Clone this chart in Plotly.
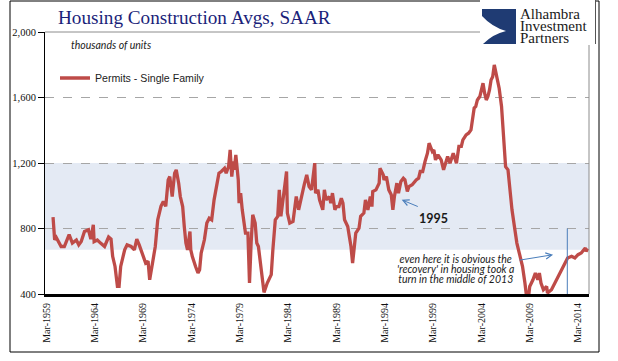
import plotly.graph_objects as go

# ---------------- data ----------------
dates = [
    "1959-11", "1960-01", "1960-03", "1960-06", "1960-09", "1961-01", "1961-04", "1961-07", "1961-11",
    "1962-04", "1962-07", "1962-10", "1963-02", "1963-07", "1963-10", "1964-01", "1964-02", "1964-06",
    "1964-10", "1965-03", "1965-08", "1965-11", "1966-01", "1966-04", "1966-07", "1966-09", "1966-11",
    "1967-04", "1967-07", "1967-12", "1968-04", "1968-07", "1968-10", "1969-02", "1969-06", "1969-09",
    "1969-11", "1970-03", "1970-06", "1970-09", "1971-01", "1971-04", "1971-07", "1971-10", "1971-12",
    "1972-03", "1972-06", "1972-08", "1972-11", "1973-01", "1973-04", "1973-06", "1973-08", "1973-10",
    "1974-01", "1974-02", "1974-04", "1974-08", "1974-11", "1975-01", "1975-03", "1975-07", "1975-10",
    "1976-01", "1976-04", "1976-07", "1976-09", "1977-01", "1977-04", "1977-08", "1977-10", "1978-01",
    "1978-03", "1978-05", "1978-07", "1978-08", "1978-10", "1979-01", "1979-02", "1979-04", "1979-06",
    "1979-10", "1980-01", "1980-03", "1980-05", "1980-07", "1980-10", "1980-12", "1981-02", "1981-07",
    "1981-09", "1982-01", "1982-06", "1982-08", "1982-11", "1983-02", "1983-04", "1983-06", "1983-08",
    "1984-01", "1984-02", "1984-05", "1984-09", "1984-12", "1985-01", "1985-04", "1985-07", "1985-11",
    "1986-02", "1986-05", "1986-08", "1986-12", "1987-01", "1987-04", "1987-06", "1987-10", "1987-12",
    "1988-02", "1988-06", "1988-08", "1988-10", "1989-01", "1989-03", "1989-06", "1989-09", "1989-11",
    "1990-01", "1990-05", "1990-07", "1990-09", "1990-11", "1991-01", "1991-03", "1991-07", "1991-09",
    "1992-01", "1992-03", "1992-06", "1992-09", "1992-11", "1992-12", "1993-04", "1993-08", "1993-09",
    "1994-01", "1994-02", "1994-05", "1994-08", "1994-11", "1995-01", "1995-03", "1995-06", "1995-08",
    "1995-11", "1996-02", "1996-04", "1996-07", "1996-09", "1997-01", "1997-06", "1997-09", "1997-11",
    "1998-02", "1998-05", "1998-08", "1998-10", "1999-02", "1999-04", "1999-06", "1999-09", "2000-01",
    "2000-04", "2000-07", "2000-09", "2000-12", "2001-04", "2001-08", "2001-11", "2002-02", "2002-04",
    "2002-08", "2002-11", "2003-02", "2003-04", "2003-06", "2003-08", "2003-10", "2004-01", "2004-03",
    "2004-05", "2004-07", "2004-09", "2004-11", "2005-01", "2005-03", "2005-05", "2005-07", "2005-09",
    "2005-11", "2006-01", "2006-04", "2006-06", "2006-08", "2006-09", "2006-12", "2007-02", "2007-05",
    "2007-08", "2007-11", "2008-02", "2008-06", "2008-09", "2008-11", "2009-01", "2009-03", "2009-07",
    "2009-10", "2010-01", "2010-03", "2010-05", "2010-08", "2010-12", "2011-01", "2011-06", "2011-10",
    "2012-02", "2012-06", "2012-10", "2013-02", "2013-07", "2013-11", "2014-03", "2014-07", "2014-12",
    "2015-01", "2015-03",
]
permits_single_family = [
    870, 731, 745, 715, 690, 690, 725, 762, 711,
    730, 700, 720, 782, 792, 735, 823, 720, 730,
    711, 690, 748, 735, 630, 568, 446, 446, 568,
    670, 700, 690, 670, 735, 700, 650, 589, 600,
    487, 602, 690, 853, 935, 965, 935, 1097, 1117,
    995, 1138, 1158, 1077, 995, 934, 812, 711, 670,
    782, 670, 629, 568, 528, 548, 650, 731, 833,
    863, 853, 975, 1036, 1138, 1148, 1168, 1138, 1179,
    1280, 1117, 1209, 1158, 1250, 1097, 955, 1016, 914,
    772, 772, 467, 711, 884, 833, 711, 690, 507,
    410, 467, 518, 670, 853, 874, 1036, 874, 955,
    1148, 894, 833, 843, 934, 995, 914, 985, 1070,
    1128, 1056, 1036, 1199, 1016, 1036, 975, 914, 1036,
    975, 995, 955, 1016, 914, 934, 934, 985, 955,
    853, 812, 751, 690, 589, 670, 772, 802, 874,
    894, 975, 914, 995, 934, 1026, 1036, 1077, 1168,
    1128, 1097, 1117, 1036, 1006, 914, 995, 1077, 1016,
    1087, 1107, 1097, 1026, 1056, 1067, 1097, 1107, 1148,
    1148, 1209, 1260, 1321, 1270, 1280, 1219, 1250, 1219,
    1158, 1209, 1240, 1199, 1260, 1199, 1301, 1301, 1341,
    1372, 1382, 1402, 1463, 1535, 1545, 1585, 1606, 1646,
    1687, 1626, 1585, 1606, 1646, 1707, 1727, 1799, 1748,
    1687, 1657, 1545, 1422, 1300, 1178, 1158, 1036, 914,
    812, 711, 650, 569, 467, 385, 360, 446, 487,
    528, 487, 528, 467, 426, 446, 406, 426, 467,
    507, 548, 589, 620, 630, 620, 640, 650, 681,
    660, 678,
]
series_name = "Permits - Single Family"
y_ticks = [400, 800, 1200, 1600, 2000]
y_tick_labels = ["400", "800", "1,200", "1,600", "2,000"]
band_low, band_high = 670, 1200
marker_date = "2013-01-20"
marker_top = 800
note_lines = ["even here it is obvious the",
              "'recovery' in housing took a",
              "turn in the middle of 2013"]
logo_lines = ["Alhambra", "Investment", "Partners"]

# ---------------- layout helpers ----------------
W, H = 618, 361
L, R, T, B = 45, 589, 32, 294


def px(x):
    return (x - L) / (R - L)


def py(y):
    return (B - y) / (B - T)


RED = "#BE4B48"
BLUE = "#4A7EBB"
SERIF = "Liberation Serif"

fig = go.Figure()
fig.add_trace(go.Scatter(
    x=dates, y=permits_single_family, mode="lines", name=series_name,
    line=dict(color=RED, width=3.3), showlegend=True,
))

shapes = [
    dict(type="rect", xref="paper", yref="y", x0=0, x1=1, y0=band_low, y1=band_high,
         fillcolor="#E4EAF4", line=dict(width=0), layer="below"),
    dict(type="line", xref="paper", yref="paper", x0=0, x1=1, y0=1, y1=1,
         line=dict(color="#8C8C8C", width=1)),
    dict(type="line", xref="paper", yref="paper", x0=1, x1=1, y0=0, y1=1,
         line=dict(color="#8C8C8C", width=1)),
    dict(type="line", xref="x", yref="y", x0=marker_date, x1=marker_date, y0=400, y1=marker_top,
         line=dict(color=BLUE, width=1)),
    dict(type="rect", xref="paper", yref="paper", x0=px(10), x1=px(599), y0=py(352), y1=py(1),
         line=dict(color="black", width=1), fillcolor="rgba(0,0,0,0)"),
    dict(type="rect", xref="paper", yref="paper", x0=px(480), x1=px(595), y0=py(45), y1=py(0),
         line=dict(width=0), fillcolor="white"),
    dict(type="line", xref="paper", yref="paper", x0=px(595.5), x1=px(595.5), y0=py(44), y1=py(0),
         line=dict(color="#555555", width=1)),
]


def pth(points):
    out = []
    for cmd, pts in points:
        coords = " ".join(f"{px(a):.5f},{py(b):.5f}" for a, b in pts)
        out.append(f"{cmd}{coords}")
    return " ".join(out) + " Z"


logo_path = pth([
    ("M", [(482, 9)]), ("L", [(516, 9)]), ("L", [(516, 44)]), ("L", [(483, 44)]),
    ("Q", [(493, 34), (506, 31)]), ("Q", [(492, 27), (482, 16)]),
])
shapes.append(dict(type="path", xref="paper", yref="paper", path=logo_path,
                   fillcolor="#1F3B73", line=dict(width=0)))

note_text = "<br>".join(f'<span style="font-size:10.5px"><i>{t}</i></span>' for t in note_lines)
logo_text = "<br>".join(f'<span style="font-size:15px">{t}</span>' for t in logo_lines)

annotations = [
    dict(text="Housing Construction Avgs, SAAR", xref="paper", yref="paper",
         x=px(56), y=py(17.5), xanchor="left", yanchor="middle", showarrow=False,
         font=dict(family=SERIF, size=19.2, color="#1B1F7A")),
    dict(text="<i>thousands of units</i>", xref="paper", yref="paper",
         x=px(69), y=py(45), xanchor="left", yanchor="middle", showarrow=False,
         font=dict(family="Lato", size=10.5, color="#222222")),
    dict(text="<b>1995</b>", xref="paper", yref="paper",
         x=px(433), y=py(218), xanchor="center", yanchor="middle", showarrow=False,
         font=dict(family="Lato", size=12.5, color="#1a1a1a")),
    dict(text="", x="1995-12-01", y=975, xref="x", yref="y", showarrow=True,
         ax=17.6, ay=7.3, arrowhead=5, arrowsize=1.2, arrowwidth=1, arrowcolor=BLUE,
         standoff=0),
    dict(text="", x="2011-08-01", y=640, xref="x", yref="y", showarrow=True,
         ax=-35, ay=5.7, arrowhead=5, arrowsize=1.2, arrowwidth=1, arrowcolor=BLUE,
         standoff=0),
    dict(text=note_text, xref="paper", yref="paper",
         x=px(455), y=py(268.5), xanchor="center", yanchor="middle", align="center",
         showarrow=False, font=dict(family="Lato", size=7.7, color="#1a1a1a")),
    dict(text=logo_text, xref="paper", yref="paper",
         x=px(518), y=py(26), xanchor="left", yanchor="middle", align="left",
         showarrow=False, font=dict(family=SERIF, size=9.4, color="#1a1a1a")),
]

fig.update_layout(
    width=W, height=H, autosize=False,
    margin=dict(l=L, r=W - R, t=T, b=H - B, pad=0),
    paper_bgcolor="white", plot_bgcolor="rgba(0,0,0,0)",
    shapes=shapes, annotations=annotations,
    legend=dict(x=px(55), y=py(78), xanchor="left", yanchor="middle",
                bgcolor="rgba(0,0,0,0)", font=dict(family="Liberation Sans", size=10.6, color="#222222"),
                itemwidth=30),
    xaxis=dict(
        type="date", range=["1959-01-01", "2015-04-20"],
        tick0="1959-03-01", dtick="M60", tickformat="%b-%Y", tickangle=-90,
        showgrid=False, showline=True, linecolor="black", linewidth=3,
        ticks="", ticklabelstandoff=2,
        tickfont=dict(family=SERIF, size=10, color="#111111"),
        zeroline=False,
    ),
    yaxis=dict(
        range=[400, 2000], tickvals=y_ticks, ticktext=y_tick_labels,
        showgrid=True, gridcolor="#A6A6A6", griddash="dash", gridwidth=1,
        showline=True, linecolor="black", linewidth=1,
        ticks="outside", ticklen=6, tickcolor="black",
        tickfont=dict(family=SERIF, size=10.5, color="#111111"),
        zeroline=False,
    ),
)

fig.write_html(
    "out.html",
    config={"displayModeBar": False},
    post_script="document.body.style.margin='0px';document.body.style.overflow='hidden';",
)
